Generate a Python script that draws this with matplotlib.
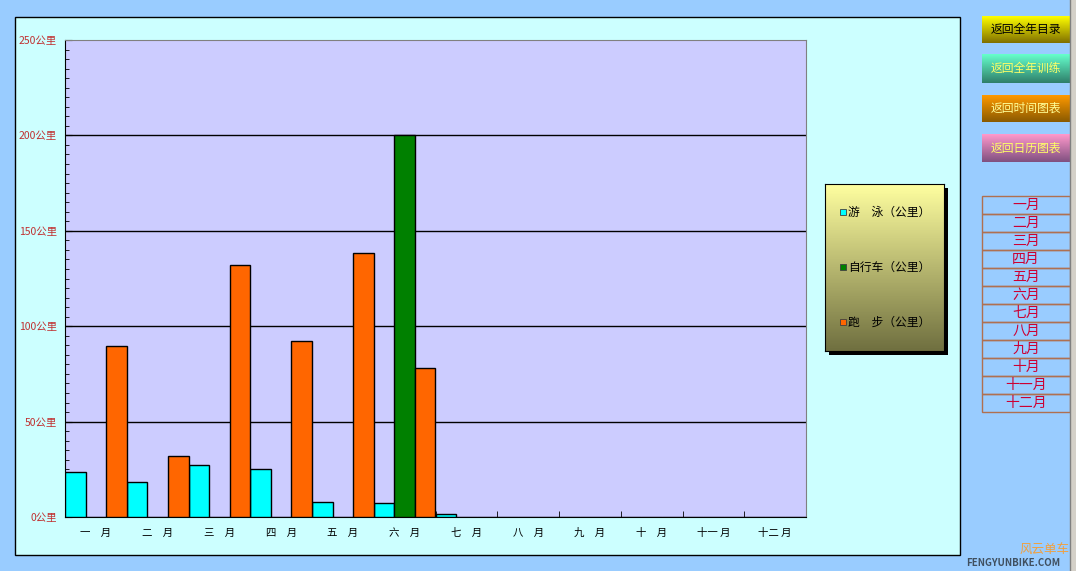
import numpy as np
import matplotlib
matplotlib.use('Agg')
import matplotlib.pyplot as plt
from matplotlib.patches import Rectangle

plt.rcParams['font.family'] = ['Noto Sans CJK SC', 'DejaVu Sans']

months = ['一　月', '二　月', '三　月', '四　月', '五　月', '六　月',
          '七　月', '八　月', '九　月', '十　月', '十一 月', '十二 月']
swim = [23.5, 18.5, 27.5, 25, 8, 7.5, 1.5, 0, 0, 0, 0, 0]
cycle = [0, 0, 0, 0, 0, 200, 0, 0, 0, 0, 0, 0]
run = [89.5, 32, 132, 92, 138.5, 78, 0, 0, 0, 0, 0, 0]
series_names = ['游　泳（公里）', '自行车（公里）', '跑　步（公里）']
series_colors = ['#00FFFF', '#008000', '#FF6600']
buttons = ['返回全年目录', '返回全年训练', '返回时间图表', '返回日历图表']
month_links = ['一月', '二月', '三月', '四月', '五月', '六月',
               '七月', '八月', '九月', '十月', '十一月', '十二月']

W, H = 1076, 571
fig = plt.figure(figsize=(W / 100, H / 100), dpi=100, facecolor='#99CCFF')


def box(x0, y0, x1, y1):
    return [x0 / W, 1 - y1 / H, (x1 - x0) / W, (y1 - y0) / H]


def gradient_axes(x0, y0, x1, y1, top, bottom, z=1):
    a = fig.add_axes(box(x0, y0, x1, y1), zorder=z)
    c0 = np.array(matplotlib.colors.to_rgb(top))
    c1 = np.array(matplotlib.colors.to_rgb(bottom))
    t = np.linspace(0, 1, 64)[:, None]
    img = (c0 * (1 - t) + c1 * t)[:, None, :]
    a.imshow(img, aspect='auto', extent=[0, 1, 0, 1], origin='upper')
    a.set_xlim(0, 1)
    a.set_ylim(0, 1)
    a.set_xticks([])
    a.set_yticks([])
    return a


# chart area
fig.patches.append(Rectangle((15 / W, 1 - 555 / H), 945 / W, 538 / H,
                             transform=fig.transFigure, facecolor='#CCFFFF',
                             edgecolor='black', linewidth=1, zorder=-2))

# plot area
ax = fig.add_axes(box(65, 40, 806, 517), facecolor='#CCCCFF', zorder=1)
x = np.arange(len(months))
w = 1 / 3
for i, (vals, col) in enumerate(zip([swim, cycle, run], series_colors)):
    ax.bar(x + (i - 1) * w, vals, width=w, color=col, edgecolor='black',
           linewidth=1, zorder=3)

ax.set_xlim(-0.5, len(months) - 0.5)
ax.set_ylim(0, 250)
ax.set_yticks(np.arange(0, 251, 50))
ax.set_yticks(np.arange(0, 251, 5), minor=True)
ax.set_yticklabels([f'{v}公里' for v in range(0, 251, 50)], color='#C03030',
                   fontsize=7.5)
ax.set_xticks(x)
ax.set_xticklabels(months, fontsize=7.5)
ax.set_xticks(np.arange(-0.5, len(months), 1), minor=True)
ax.tick_params(axis='x', which='major', length=0, pad=8)
ax.tick_params(axis='x', which='minor', direction='in', length=4)
ax.tick_params(axis='y', which='major', direction='in', length=5, pad=6)
ax.tick_params(axis='y', which='minor', direction='in', length=3)
for v in range(50, 250, 50):
    ax.axhline(v, color='black', linewidth=1, zorder=2)
ax.spines['left'].set_color('black')
ax.spines['bottom'].set_color('black')
ax.spines['top'].set_color('#808080')
ax.spines['right'].set_color('#808080')

# legend with shadow
fig.patches.append(Rectangle((829 / W, 1 - 355 / H), 119 / W, 167 / H,
                             transform=fig.transFigure, facecolor='black',
                             zorder=-1))
lg = gradient_axes(825, 184, 944, 351, '#FFFFA0', '#707040', z=2)
for s in lg.spines.values():
    s.set_color('black')
for name, col, yy in zip(series_names, series_colors, [212, 267, 322]):
    fy = 1 - (yy - 184) / 167
    lg.add_patch(Rectangle((15 / 119, fy - 3 / 167), 6 / 119, 6 / 167,
                           facecolor=col, edgecolor='#404040', linewidth=0.6))
    lg.text(23 / 119, fy, name, fontsize=8.5, va='center', ha='left')

# navigation buttons
btn_styles = [('#FFFF00', '#807000', 'black'),
              ('#66FFCC', '#2E7F6A', '#FFFF66'),
              ('#FF9900', '#8A5A00', '#FFFF99'),
              ('#FF99CC', '#805080', '#FFFF66')]
for label, (top, bot, tc), (y0, y1) in zip(
        buttons, btn_styles, [(16, 43), (54, 83), (95, 122), (134, 162)]):
    b = gradient_axes(982, y0, 1070, y1, top, bot)
    for s in b.spines.values():
        s.set_visible(False)
    b.text(0.5, 0.5, label, color=tc, fontsize=8.5, ha='center', va='center')

# month links table
for i, m in enumerate(month_links):
    y0 = 196 + i * 18
    fig.patches.append(Rectangle((982 / W, 1 - (y0 + 18) / H), 88 / W, 18 / H,
                                 transform=fig.transFigure, facecolor='none',
                                 edgecolor='#B07050', linewidth=1))
    fig.text(1026 / W, 1 - (y0 + 9) / H, m, color='#CC0033', fontsize=10,
             ha='center', va='center')

# window edge
fig.patches.append(Rectangle((1070 / W, 0), 6 / W, 1,
                             transform=fig.transFigure, facecolor='#D4D0C8',
                             edgecolor='none'))
fig.lines.append(plt.Line2D([1070 / W, 1070 / W], [0, 1],
                            transform=fig.transFigure, color='#808080',
                            linewidth=1))

# watermark
fig.text(1045 / W, 1 - 549 / H, '风云单车', color='#F0A040', fontsize=9,
         ha='center', va='center')
fig.text(1013 / W, 1 - 563 / H, 'FENGYUNBIKE.COM', color='#405060',
         fontsize=7, ha='center', va='center', style='italic',
         fontweight='bold')

fig.savefig('out.png', dpi=100, facecolor=fig.get_facecolor())
